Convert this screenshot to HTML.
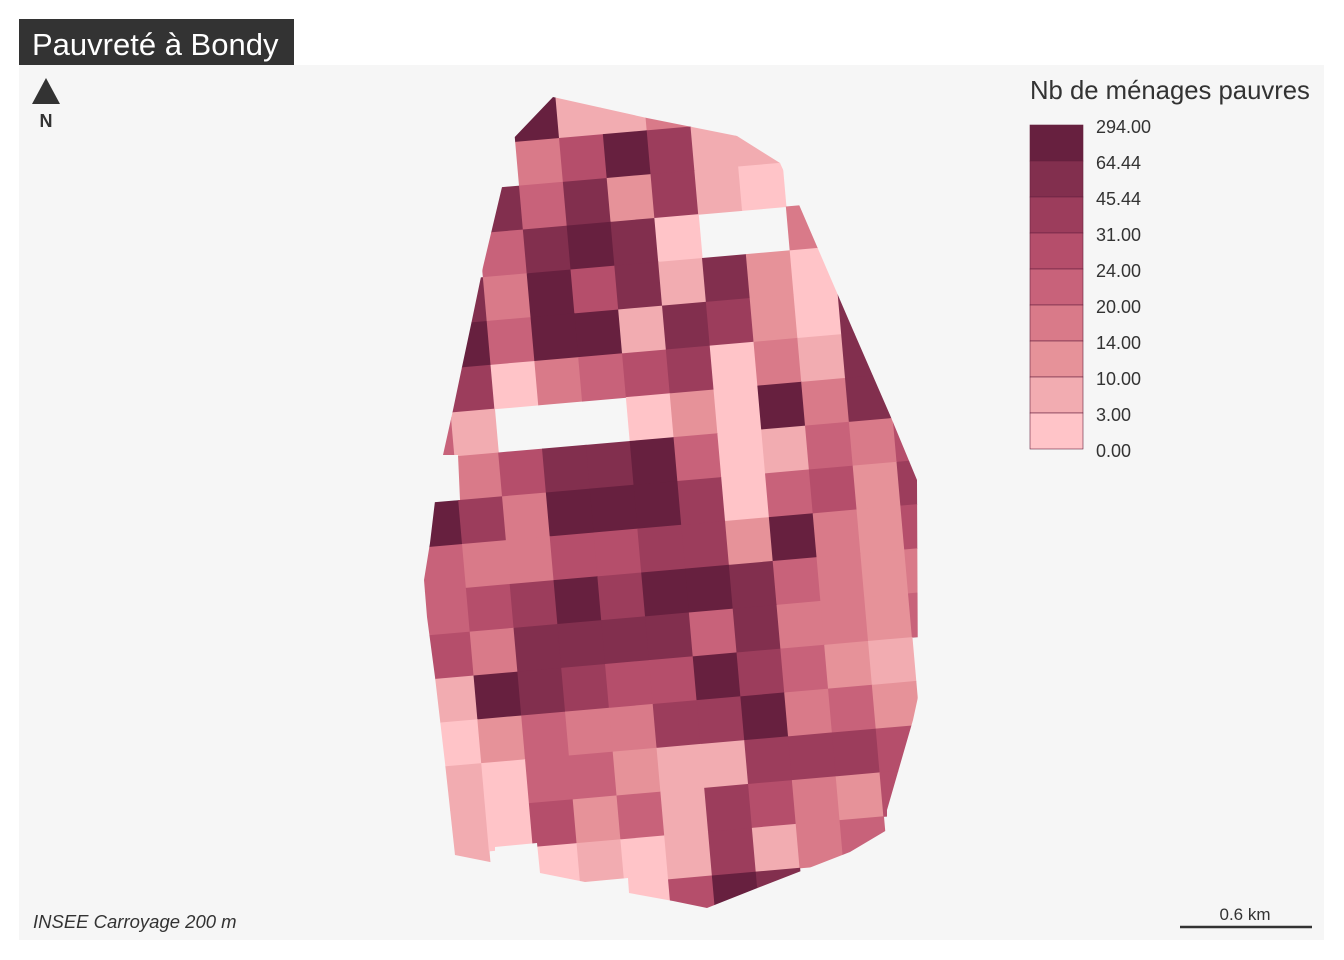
<!DOCTYPE html>
<html><head><meta charset="utf-8">
<style>
body{margin:0;background:#fff;width:1344px;height:960px;overflow:hidden;font-family:"Liberation Sans",sans-serif;}
svg{display:block}
</style></head>
<body>
<svg id="chart" width="1344" height="960" viewBox="0 0 1344 960">
  <rect x="19" y="65" width="1305" height="875" fill="#f6f6f6"/>
  <rect x="19" y="19" width="275" height="46" fill="#333333"/>
  <text x="32" y="55" font-size="31" fill="#ffffff" font-family="Liberation Sans, sans-serif">Pauvreté à Bondy</text>
  <defs>
    <clipPath id="commune">
      <polygon points="553,97 647,118 737,136 780,163 797,200 853,330 890,415 917,480 918,697 913,720 887,810 887,830 850,852 760,887 707,908 673,901 629,893 628,878 585,882 540,873 537,843 495,847 495,863 455,855 445,763 435,677 427,617 424,580 430,543 435,501 460,500 458,455 443,455 453,410 462,367 472,320 483,267 502,187 510,142"/>
    </clipPath>
  </defs>
  <g clip-path="url(#commune)">
    <g id="cells" transform="translate(559,138) rotate(-5)"></g>
  </g>
  <g>
    <polygon points="46,78 32,104 60,104" fill="#333333"/>
    <text x="46" y="127" font-size="18" font-weight="bold" text-anchor="middle" fill="#333">N</text>
  </g>
  <text x="1030" y="99" font-size="25.7" fill="#333">Nb de ménages pauvres</text>
  <g id="legend"></g>
  <text x="33" y="928" font-size="18.5" font-style="italic" fill="#333">INSEE Carroyage 200 m</text>
  <g>
    <line x1="1180" y1="927" x2="1312" y2="927" stroke="#333" stroke-width="2.5"/>
    <text x="1245" y="920" font-size="17" text-anchor="middle" fill="#333">0.6 km</text>
  </g>
</svg>
<script>
// class index per grid cell (rows j=-1..17, columns i=-4..7); '.' = no data
const gridRows = [
  "...kbbdb....",
  "...dfkgbb...",
  "..hehcgba...",
  "..ehkha..d..",
  ".hdkfhbhca..",
  ".kekkbhgcah.",
  ".gadefgadbh.",
  "eb...acakdh.",
  ".dfhhkeabedf",
  "kgdkkkgaefcg",
  "eddffggckdcf",
  "efgkgkkhedcd",
  "fdhhhhehddce",
  "bkhgffkgecb.",
  "aceddggkdec.",
  "baeecbbgggf.",
  "bafcebgfdcf.",
  "b.ababgbde..",
  "....afkh...."
];
const classKeys = ["a","b","c","d","e","f","g","h","k"];
const classColors = ["#FFC4C8","#F2ACB1","#E69299","#D97A89","#C8627A","#B54E6B","#9C3D5C","#822F4E","#67203F"];
const breakLabels = ["294.00","64.44","45.44","31.00","24.00","20.00","14.00","10.00","3.00","0.00"];
const NS = "http://www.w3.org/2000/svg";
const cell = 44;
const firstRow = -1, firstCol = -4;
const cellsG = document.getElementById("cells");
gridRows.forEach((row, r) => {
  for (let c = 0; c < row.length; c++) {
    const k = classKeys.indexOf(row[c]);
    if (k < 0) continue;
    const rect = document.createElementNS(NS, "rect");
    rect.setAttribute("x", (c + firstCol) * cell);
    rect.setAttribute("y", (r + firstRow) * cell);
    rect.setAttribute("width", cell + 0.6);
    rect.setAttribute("height", cell + 0.6);
    rect.setAttribute("fill", classColors[k]);
    
    
    cellsG.appendChild(rect);
  }
});
const legend = document.getElementById("legend");
const nBins = classColors.length;
for (let b = 0; b < nBins; b++) {
  const rect = document.createElementNS(NS, "rect");
  rect.setAttribute("x", 1030);
  rect.setAttribute("y", 125 + b * 36);
  rect.setAttribute("width", 53);
  rect.setAttribute("height", 36);
  rect.setAttribute("fill", classColors[nBins - 1 - b]);
  rect.setAttribute("stroke", "#67203F");
  rect.setAttribute("stroke-width", "0.6");
  
  
  legend.appendChild(rect);
}
breakLabels.forEach((lab, b) => {
  const t = document.createElementNS(NS, "text");
  t.setAttribute("x", 1096);
  t.setAttribute("y", 133 + b * 36);
  t.setAttribute("font-size", "18");
  t.setAttribute("fill", "#333");
  t.textContent = lab;
  
  
  legend.appendChild(t);
});
</script>
</body></html>
